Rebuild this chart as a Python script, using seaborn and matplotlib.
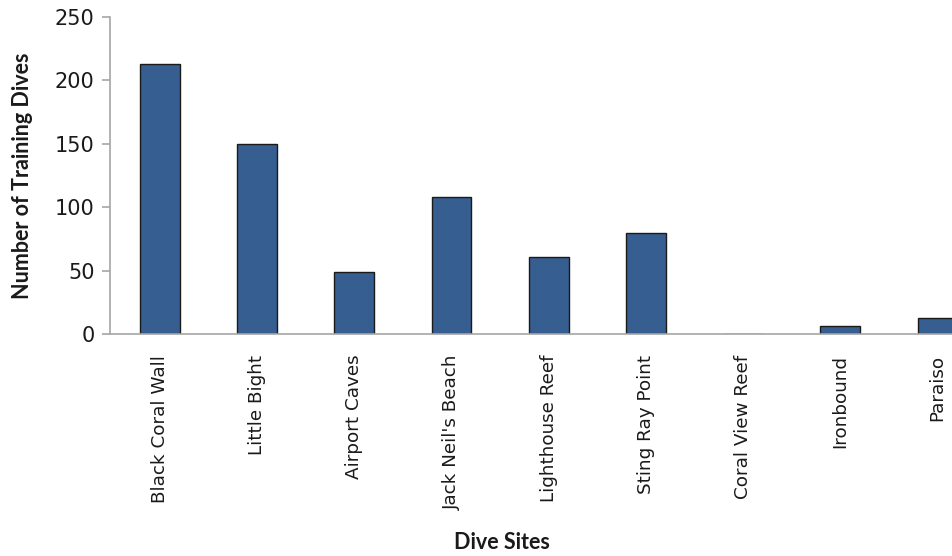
import matplotlib
matplotlib.use("Agg")
import matplotlib.pyplot as plt
import seaborn as sns
import pandas as pd

sites = ["Black Coral Wall", "Little Bight", "Airport Caves", "Jack Neil's Beach",
         "Lighthouse Reef", "Sting Ray Point", "Coral View Reef", "Ironbound", "Paraiso"]
dives = [213, 150, 49, 108, 61, 80, 0, 6, 13]
y_ticks = [0, 50, 100, 150, 200, 250]

df = pd.DataFrame({"site": sites, "dives": dives})

sns.set_theme(style="white")
plt.rcParams["font.family"] = ["DejaVu Sans"]

fig = plt.figure(figsize=(9.52, 5.56), dpi=100)
ax = fig.add_axes([110 / 952, 1 - 334 / 556, 1 - 110 / 952, (334 - 17) / 556])

sns.barplot(data=df, x="site", y="dives", color="#365E91", saturation=1,
            width=0.41, edgecolor="#1a1a1a", linewidth=1.0, ax=ax)

ax.set_ylim(0, 250)
ax.set_yticks(y_ticks)
ax.set_xlim(-0.515, 8.15)

for side in ("top", "right"):
    ax.spines[side].set_visible(False)
for side in ("left", "bottom"):
    ax.spines[side].set_color("#a6a6a6")
    ax.spines[side].set_linewidth(1.2)

ax.tick_params(axis="y", which="major", left=True, length=6, width=1.2,
               color="#a6a6a6", labelsize=15, labelcolor="#1a1a1a", pad=5)
ax.tick_params(axis="x", bottom=False, labelsize=13.2, labelcolor="#1a1a1a", pad=9)
plt.setp(ax.get_xticklabels(), rotation=90, va="top", ha="center")

ax.set_ylabel("Number of Training Dives", fontsize=15.5, fontweight="bold",
              family="Lato", color="#1a1a1a")
ax.yaxis.set_label_coords(-0.091, 0.5)
ax.set_xlabel("Dive Sites", fontsize=15.5, fontweight="bold",
              family="Lato", color="#1a1a1a")
ax.xaxis.set_label_coords(0.466, -0.625)

fig.savefig("out.png", dpi=100)
